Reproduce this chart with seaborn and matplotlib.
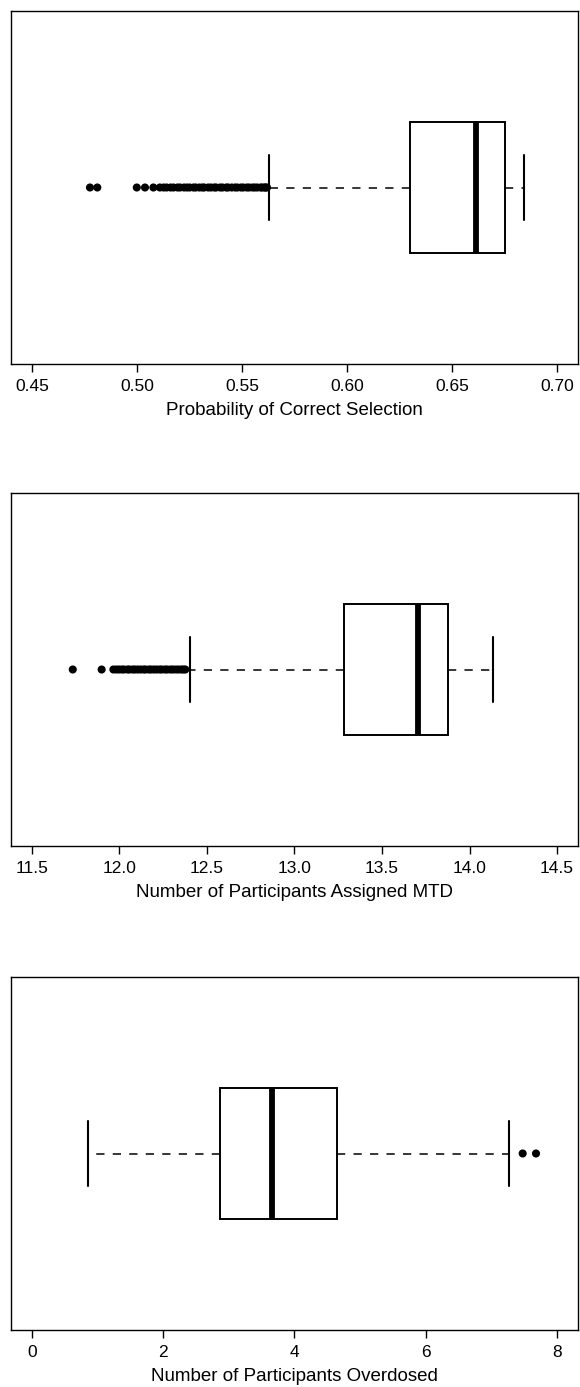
import matplotlib
matplotlib.use("Agg")
import matplotlib.pyplot as plt
import seaborn as sns
import numpy as np

# estilo simples, sem grade (parecido com o boxplot do R)
sns.set_style("white")
plt.rcParams["font.family"] = ["Liberation Sans", "DejaVu Sans"]
plt.rcParams["text.color"] = "black"
plt.rcParams["axes.labelcolor"] = "black"
plt.rcParams["xtick.color"] = "black"

# resumo de cinco números: whisker inferior, Q1, mediana, Q3, whisker superior
pcs_resumo = [0.5630, 0.6301, 0.6613, 0.6752, 0.6843]
pcs_outliers = [0.4776, 0.4811, 0.4999, 0.5038, 0.5078, 0.5109, 0.5127, 0.5141,
                0.5160, 0.5174, 0.5193, 0.5205, 0.5224, 0.5238, 0.5251, 0.5269,
                0.5280, 0.5297, 0.5311, 0.5320, 0.5339, 0.5352, 0.5368, 0.5377,
                0.5396, 0.5407, 0.5425, 0.5434, 0.5451, 0.5467, 0.5478, 0.5495,
                0.5506, 0.5523, 0.5534, 0.5550, 0.5561, 0.5573, 0.5589, 0.5596,
                0.5607, 0.5612, 0.5619]
pcs_ticks = [0.45, 0.50, 0.55, 0.60, 0.65, 0.70]
pcs_labels = ["0.45", "0.50", "0.55", "0.60", "0.65", "0.70"]

mtd_resumo = [12.403, 13.283, 13.704, 13.877, 14.136]
mtd_outliers = [11.733, 11.898, 11.965, 11.982, 11.997, 12.013, 12.026, 12.046,
                12.057, 12.075, 12.088, 12.104, 12.120, 12.137, 12.149, 12.168,
                12.181, 12.197, 12.212, 12.229, 12.242, 12.260, 12.273, 12.291,
                12.305, 12.322, 12.337, 12.353, 12.365, 12.376]
mtd_ticks = [11.5, 12.0, 12.5, 13.0, 13.5, 14.0, 14.5]
mtd_labels = ["11.5", "12.0", "12.5", "13.0", "13.5", "14.0", "14.5"]

od_resumo = [0.858, 2.865, 3.662, 4.643, 7.269]
od_outliers = [7.477, 7.680]
od_ticks = [0, 2, 4, 6, 8]
od_labels = ["0", "2", "4", "6", "8"]

paineis = [
    (pcs_resumo, pcs_outliers, pcs_ticks, pcs_labels, (0.45, 0.70),
     "Probability of Correct Selection"),
    (mtd_resumo, mtd_outliers, mtd_ticks, mtd_labels, (11.5, 14.5),
     "Number of Participants Assigned MTD"),
    (od_resumo, od_outliers, od_ticks, od_labels, (0, 8),
     "Number of Participants Overdosed"),
]

fig = plt.figure(figsize=(5.8, 13.87), dpi=100)

# posição dos eixos (fração da figura)
esquerda, largura, altura = 11 / 580, 567 / 580, 353 / 1387
bases = [1023 / 1387, 541 / 1387, 57 / 1387]

for base, (resumo, outliers, ticks, labels, lim, titulo) in zip(bases, paineis):
    ax = fig.add_axes([esquerda, base, largura, altura])

    sns.boxplot(
        x=resumo,
        orient="h",
        whis=(0, 100),
        width=0.4,
        color="white",
        linecolor="black",
        linewidth=1.4,
        fliersize=0,
        medianprops=dict(linewidth=4.2, color="black", solid_capstyle="butt"),
        whiskerprops=dict(linestyle=(0, (5.4, 5.4)), linewidth=1.1),
        capprops=dict(linewidth=1.5),
        ax=ax
    )

    sns.scatterplot(
        x=outliers,
        y=[0] * len(outliers),
        color="black",
        edgecolor="none",
        s=34,
        ax=ax
    )

    # margem de 4% como no R
    folga = 0.04 * (lim[1] - lim[0])
    ax.set_xlim(lim[0] - folga, lim[1] + folga)
    ax.set_ylim(0.54, -0.54)

    ax.set_xticks(ticks)
    ax.set_xticklabels(labels, fontsize=12.5, color="black")
    ax.set_yticks([])
    ax.tick_params(axis="x", direction="out", length=6, width=1,
                   pad=4.5, color="black", bottom=True)
    ax.set_xlabel(titulo, fontsize=13.5, labelpad=6, color="black")
    ax.set_ylabel("")

    for lado in ax.spines.values():
        lado.set_visible(True)
        lado.set_color("black")
        lado.set_linewidth(1.0)

fig.savefig("out.png", dpi=100, facecolor="white")
